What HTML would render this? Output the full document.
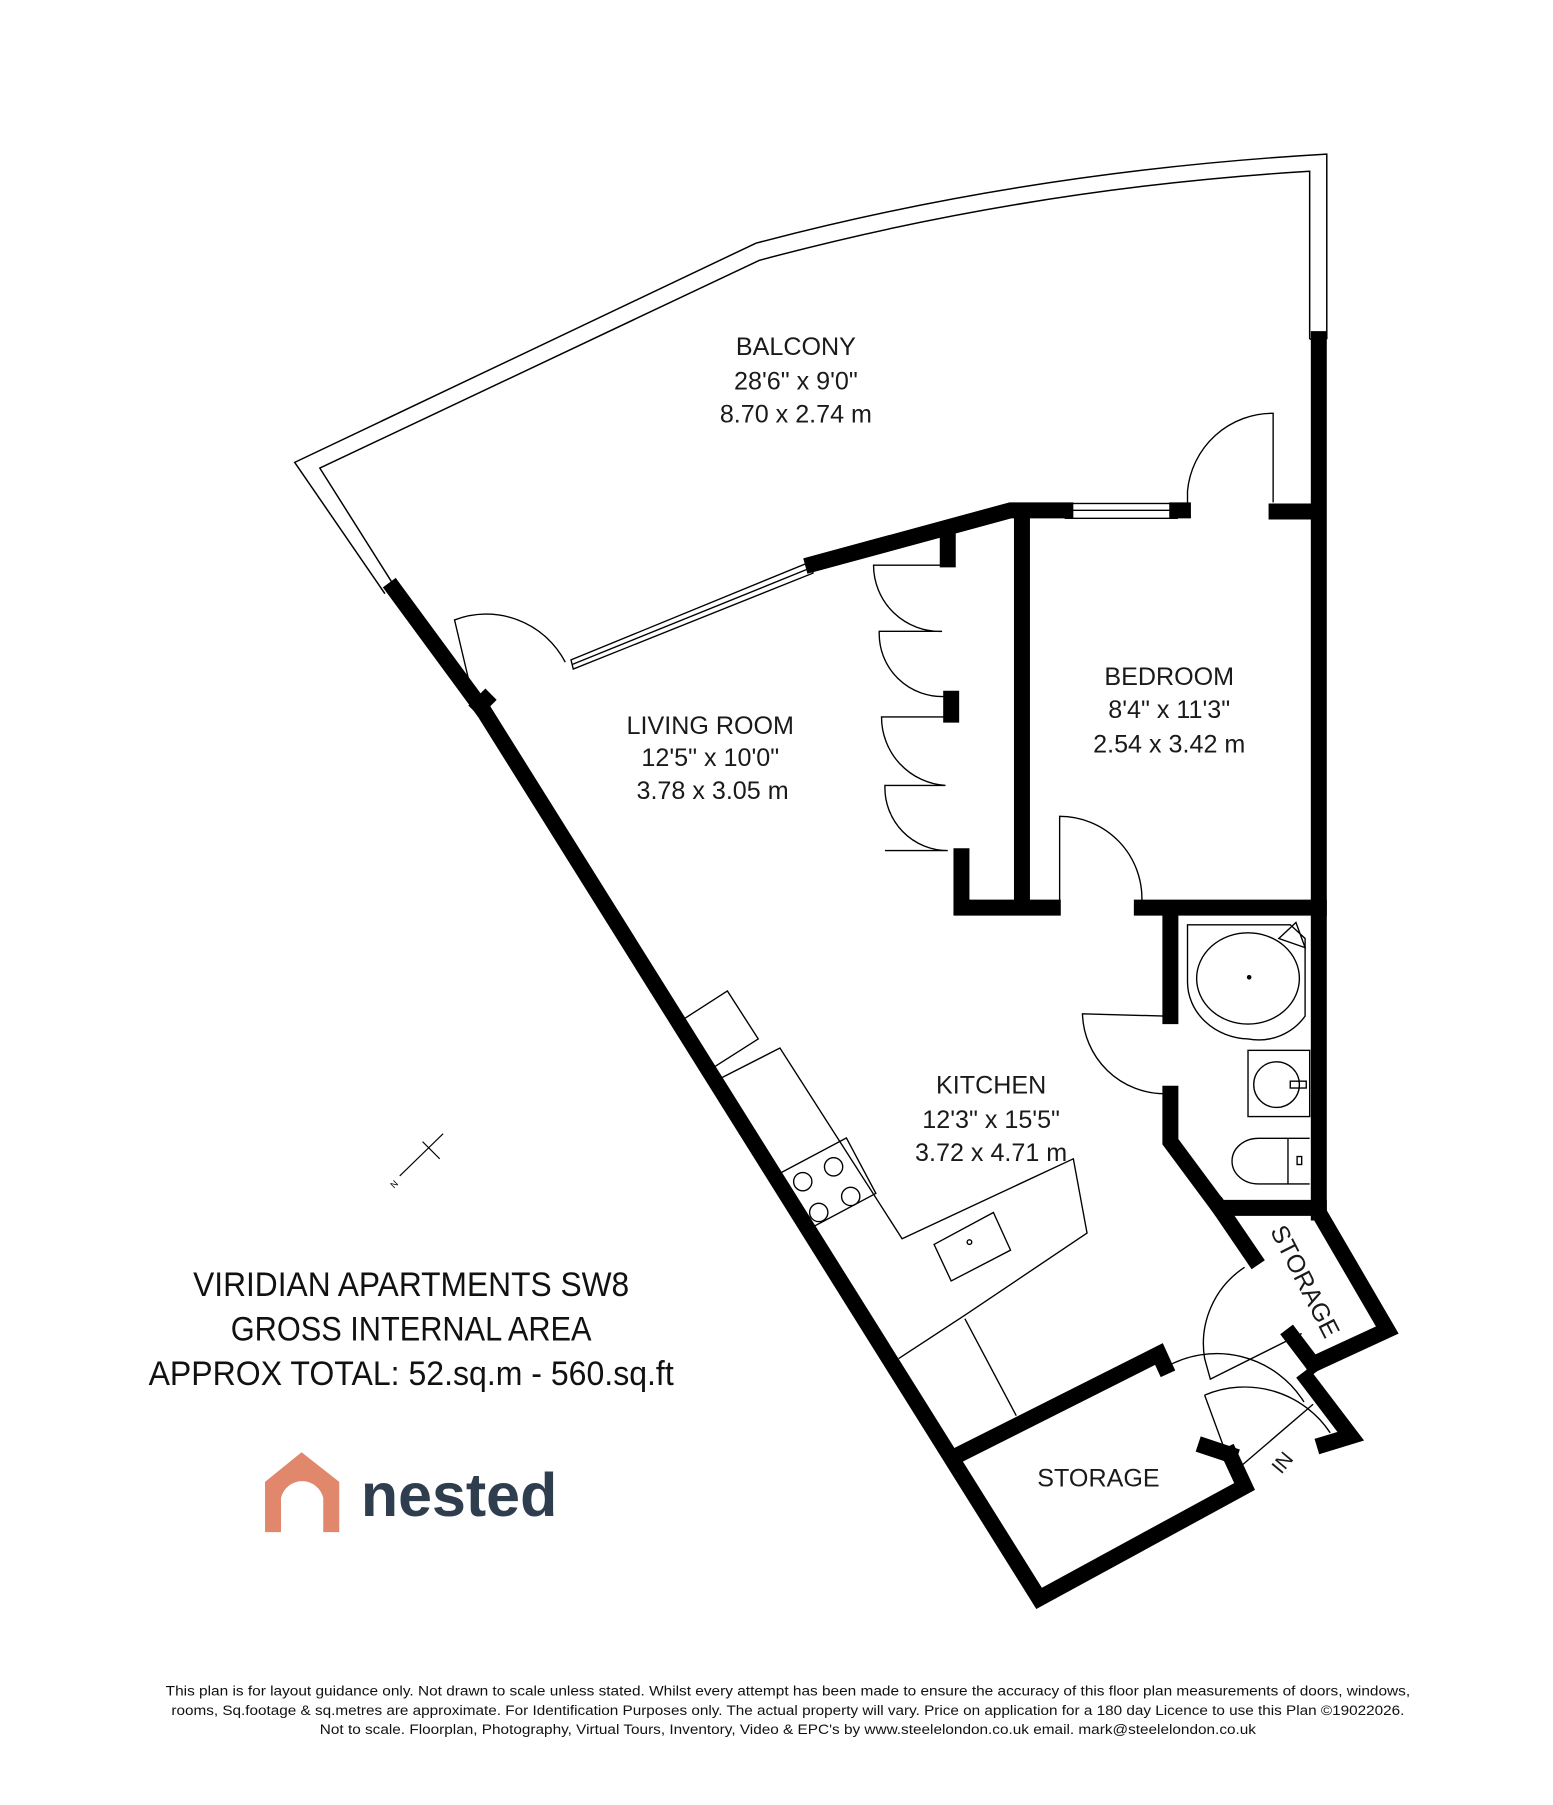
<!DOCTYPE html>
<html><head><meta charset="utf-8"><style>
html,body{margin:0;padding:0;background:#fff}
svg{display:block}
text{font-family:"Liberation Sans",sans-serif}
</style></head><body>
<svg width="1553" height="1805" viewBox="0 0 1360 1581" xmlns="http://www.w3.org/2000/svg">
<rect width="1360" height="1581" fill="#fff"/>
<g fill="none" stroke="#000" stroke-width="1.3">
<path d="M337,520 L258,405 L662,213 Q900,150 1162,135 L1162,297"/>
<path d="M345,513 L280,410 L665,228 Q900,165 1147,150 L1147,297"/>
<line x1="1147" y1="297" x2="1162" y2="297"/>
</g>
<g fill="none" stroke="#000" stroke-width="14" stroke-linejoin="miter" stroke-linecap="square">
<path d="M345,516 L420,618"/>
<path d="M420,618 L425,613"/>
<path d="M425,625 L910,1400 L1090,1302 L1077,1274"/>
<path d="M1077,1274 L1056,1267"/>
<path d="M838,1275 L1015,1186 L1020,1197"/>
<path d="M712,494 L885,447 L933,447"/>
<path d="M1031,447 L1036,447"/>
<path d="M1118,448 L1147,448"/>
<path d="M1155,297 L1155,1062"/>
<path d="M895,452 L895,792"/>
<path d="M830,472 L830,490"/>
<path d="M833,612 L833,626"/>
<path d="M842,750 L842,795 L922,795"/>
<path d="M1000,795 L1155,795"/>
<path d="M1025,800 L1025,890"/>
<path d="M1025,958 L1025,1000 L1068,1058 L1155,1058"/>
<path d="M1068,1058 L1098,1102"/>
<path d="M1155,1062 L1215,1165 L1150,1195"/>
<path d="M1150,1195 L1131,1170"/>
<path d="M1145,1208 L1183,1258 L1160,1265"/>
</g>
<g fill="none" stroke="#000" stroke-width="1.2">
<path d="M500,578 L710,492 L712,502 L502,586 Z"/>
<line x1="501" y1="582" x2="711" y2="497"/>
<rect x="933" y="441" width="98" height="13"/>
<line x1="933" y1="447" x2="1031" y2="447"/>
</g>
<g fill="none" stroke="#000" stroke-width="1.2">
<path d="M415,615 L398,543 A78,78 0 0 1 495,580"/>
<path d="M1040,447 L1040,430 A75,75 0 0 1 1115,362 L1115,440"/>
<path d="M830,495 L765,495 A58,58 0 0 0 825,553 L770,553 A55,55 0 0 0 828,610"/>
<path d="M830,628 L772,628 A60,60 0 0 0 828,688 L775,688 A55,55 0 0 0 830,745 L775,745"/>
<path d="M928,790 L928,715 A72,72 0 0 1 1000,790"/>
<path d="M1020,890 L948,888 A72,72 0 0 0 1020,958"/>
<path d="M1090,1110 A80,80 0 0 0 1055,1190 L1060,1208 L1140,1168"/>
<path d="M1020,1198 A90,90 0 0 1 1142,1228"/>
<path d="M1055,1222 A90,90 0 0 1 1165,1255"/>
<path d="M1055,1222 L1080,1290"/>
<path d="M1080,1290 L1150,1230"/>
</g>
<g fill="none" stroke="#000" stroke-width="1.2">
<path d="M595,895 L637,868 L664,910 L620,938"/>
<path d="M630,945 L683,918 L790,1085 L940,1015 L952,1080 L845,1152 L787,1190"/>
<path d="M845,1155 L890,1240"/>
<rect x="688" y="1010" width="70" height="55" transform="rotate(-28 723 1037)"/>
<circle cx="703" cy="1035" r="8"/><circle cx="730" cy="1022" r="8"/>
<circle cx="717" cy="1062" r="8"/><circle cx="745" cy="1048" r="8"/>
<path d="M818,1090 L870,1062 L885,1095 L833,1122 Z"/>
<circle cx="849" cy="1088" r="2"/>
<path d="M1040,810 L1130,810 L1143,822 L1143,890 A50,50 0 0 1 1093,910 A55,50 0 0 1 1040,860 Z"/>
<ellipse cx="1093" cy="857" rx="45" ry="40"/>
<path d="M1120,822 L1135,808 L1143,830 Z"/>
<rect x="1093" y="920" width="54" height="58"/>
<circle cx="1118" cy="950" r="20"/>
<rect x="1130" y="947" width="14" height="6"/>
<path d="M1147,997 L1102,997 A23,20 0 0 0 1102,1037 L1147,1037"/>
<line x1="1128" y1="997" x2="1128" y2="1037"/>
<rect x="1136" y="1013" width="4" height="7"/>
</g>
<circle cx="1094" cy="856" r="2" fill="#000"/>
<g stroke="#000" stroke-width="1" fill="none">
<line x1="350" y1="1030" x2="388" y2="993"/>
<line x1="370" y1="1000" x2="385" y2="1015"/>
<text x="342" y="1040" font-size="8" transform="rotate(-45 345 1037)" fill="#000" stroke="none">N</text>
</g>
<g fill="#1a1a1a" font-size="22" text-anchor="middle" style="font-family:'DejaVu Sans',sans-serif">
<text x="697" y="311">BALCONY</text><text x="697" y="341">28'6" x 9'0"</text><text x="697" y="370">8.70 x 2.74 m</text>
<text x="622" y="643">LIVING ROOM</text><text x="622" y="671">12'5" x 10'0"</text><text x="624" y="700">3.78 x 3.05 m</text>
<text x="1024" y="600">BEDROOM</text><text x="1024" y="629">8'4" x 11'3"</text><text x="1024" y="659">2.54 x 3.42 m</text>
<text x="868" y="958">KITCHEN</text><text x="868" y="988">12'3" x 15'5"</text><text x="868" y="1017">3.72 x 4.71 m</text>
<text x="962" y="1302">STORAGE</text>
<text transform="translate(1112,1078) rotate(63)" text-anchor="start">STORAGE</text>
<text transform="translate(1122,1292) rotate(-50)" font-size="18" text-anchor="start">IN</text>
</g>
<g fill="#111" font-size="30" text-anchor="middle">
<text x="360" y="1135" textLength="382" lengthAdjust="spacingAndGlyphs">VIRIDIAN APARTMENTS SW8</text>
<text x="360" y="1174" textLength="316" lengthAdjust="spacingAndGlyphs">GROSS INTERNAL AREA</text>
<text x="360" y="1213" textLength="460" lengthAdjust="spacingAndGlyphs">APPROX TOTAL: 52.sq.m - 560.sq.ft</text>
</g>
<path d="M232,1342 L232,1298 L264,1272 L297,1298 L297,1342 L283,1342 L283,1312 A19,19 0 0 0 246,1312 L246,1342 Z" fill="#e0876c"/>
<text x="316" y="1328" font-size="54" font-weight="bold" fill="#2f3e4e" textLength="172" lengthAdjust="spacingAndGlyphs">nested</text>
<g fill="#111" font-size="12.5" text-anchor="middle">
<text x="690" y="1485" textLength="1090" lengthAdjust="spacingAndGlyphs">This plan is for layout guidance only. Not drawn to scale unless stated. Whilst every attempt has been made to ensure the accuracy of this floor plan measurements of doors, windows,</text>
<text x="690" y="1502" textLength="1080" lengthAdjust="spacingAndGlyphs">rooms, Sq.footage &amp; sq.metres are approximate. For Identification Purposes only. The actual property will vary. Price on application for a 180 day Licence to use this Plan ©19022026.</text>
<text x="690" y="1519" textLength="820" lengthAdjust="spacingAndGlyphs">Not to scale. Floorplan, Photography, Virtual Tours, Inventory, Video &amp; EPC's by www.steelelondon.co.uk  email. mark@steelelondon.co.uk</text>
</g>
</svg>
</body></html>
